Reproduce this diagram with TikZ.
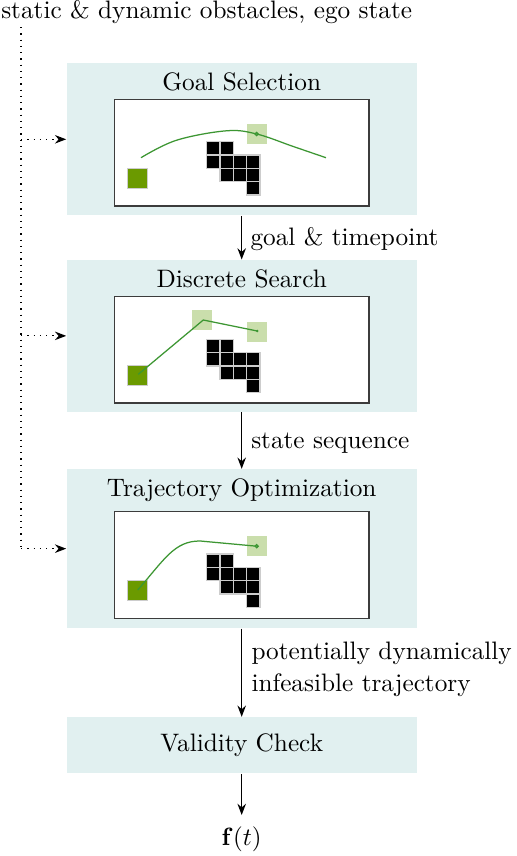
\documentclass[tikz,border=0pt]{standalone}
\usetikzlibrary{arrows.meta}
\definecolor{stagebg}{RGB}{225,240,240}
\definecolor{startgreen}{RGB}{107,154,0}
\definecolor{goalgreen}{RGB}{202,222,172}
\definecolor{pathgreen}{RGB}{60,150,50}
\definecolor{cellborder}{RGB}{205,205,205}
\definecolor{innerframe}{RGB}{60,60,60}
\tikzset{
  stage/.style={fill=stagebg, draw=none, minimum width=140pt, inner sep=0pt},
  title/.style={anchor=base, inner sep=0pt},
  panel/.style={fill=white, draw=innerframe, line width=0.6pt, minimum width=101.9pt, minimum height=42.7pt, inner sep=0pt},
  flow/.style={-{Stealth[length=4.5pt,width=3.4pt]}, line width=0.45pt},
  feed/.style={dotted, line width=0.5pt},
  feedarrow/.style={dotted, line width=0.5pt, -{Stealth[length=4.5pt,width=3.4pt]}},
  lbl/.style={anchor=base west, inner sep=0pt, align=left},
  cell/.style={fill=black, draw=cellborder, line width=0.5pt},
  startsq/.style={fill=startgreen, draw=cellborder, line width=0.5pt},
  goalsq/.style={fill=goalgreen, draw=none},
  path/.style={draw=pathgreen, line width=0.5pt}
}
\newcommand{\obstgrid}{%
  \foreach \c/\r in {0/0,1/0,0/1,1/1,2/1,3/1,1/2,2/2,3/2,3/3}{
    \path[cell] ({92.4+\c*13.33},{42.4+\r*13.33}) rectangle ++(13.33,13.33);
  }%
}
\begin{document}
\begin{tikzpicture}[x=0.4pt,y=-0.4pt,font=\fontsize{10.1}{12.8}\selectfont]
\useasboundingbox (0,0) rectangle (516,856);

% input text
\node[lbl] (inp) at (0.8,18) {static \& dynamic obstacles, ego state};
\coordinate (c0) at (21,27);

% stages
\node[stage, minimum height=60.8pt] (gs) at (241.7,139.3) {};
\node[stage, minimum height=60.68pt] (ds) at (241.7,335.85) {};
\node[stage, minimum height=63.48pt] (to) at (241.7,548.65) {};
\node[stage, minimum height=22.4pt] (vc) at (241.7,745.3) {};

\node[title] (gst) at (241.7,90.7) {Goal Selection};
\node[title] (dst) at (241.7,287.3) {Discrete Search};
\node[title] (tot) at (241.7,496.7) {Trajectory Optimization};
\node[title] (vct) at (241.7,751.7) {Validity Check};

% panels
\node[panel] (gsp) at (241.65,152.65) {};
\node[panel] (dsp) at (241.65,349.85) {};
\node[panel] (top) at (241.65,565) {};

% goal selection content
\begin{scope}[shift={(114.3,99.3)}]
  \path[goalsq] (132.4,24.7) rectangle ++(20,20);
  \path[startsq] (13.4,69) rectangle ++(20,20);
  \obstgrid
  \draw[path] plot[smooth, tension=0.6] coordinates {(26.7,58.4) (62,41) (112,31.5) (142.4,34.7) (179,47.2) (211.7,58.4)};
  \draw[pathgreen, line width=0.5pt] (142.4,34.7) circle (1.6);
\end{scope}

% discrete search content
\begin{scope}[shift={(114.3,297)}]
  \path[goalsq] (78,13) rectangle ++(20,20);
  \path[goalsq] (132.4,24.7) rectangle ++(20,20);
  \path[startsq] (13.4,68.5) rectangle ++(20,20);
  \obstgrid
  \draw[path] (24,77.3) -- (89,23) -- (143,34);
  \fill[pathgreen] (143,34) circle (1.4);
\end{scope}

% trajectory optimization content
\begin{scope}[shift={(114.3,511.7)}]
  \path[goalsq] (132.4,24.5) rectangle ++(20,20);
  \path[startsq] (13.4,69) rectangle ++(20,20);
  \obstgrid
  \draw[path] (23.4,78.3) .. controls (50,48) and (60,29) .. (86,29.3) -- (142.4,34.5);
  \draw[pathgreen, line width=0.5pt] (142.4,34.5) circle (1.6);
\end{scope}

% output
\node[anchor=base, inner sep=0pt] (out) at (241.7,845) {$\mathbf{f}(t)$};
\coordinate (outtop) at (241.7,815);

% flow arrows
\draw[flow] (gs.south) -- (ds.north) node[lbl, pos=0.5, xshift=3.3pt, yshift=-3.2pt] (l1) {goal \& timepoint};
\draw[flow] (ds.south) -- (to.north) node[lbl, pos=0.5, xshift=3.6pt, yshift=-3.2pt] (l2) {state sequence};
\draw[flow] (to.south) -- (vc.north);
\node[lbl] (l3) at (251,691.7) {potentially dynamically\\infeasible trajectory};
\draw[flow] (vc.south) -- (outtop);

% feeds
\draw[feed] (c0) -- (c0 |- to.west);
\draw[feedarrow] (c0 |- gs.west) -- (gs.west);
\draw[feedarrow] (c0 |- ds.west) -- (ds.west);
\draw[feedarrow] (c0 |- to.west) -- (to.west);
\end{tikzpicture}
\end{document}
